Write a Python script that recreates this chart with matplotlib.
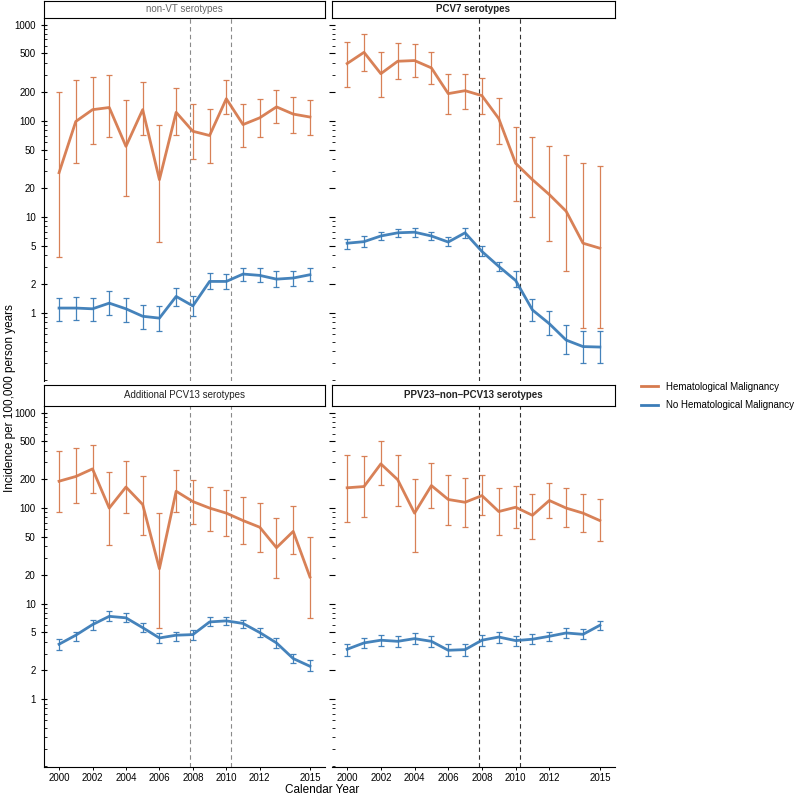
import matplotlib
matplotlib.use("Agg")
import matplotlib.pyplot as plt
from matplotlib.lines import Line2D
import numpy as np

plt.rcParams['font.family'] = ['Liberation Sans', 'DejaVu Sans']

years = list(range(2000, 2016))
panels = ["non-VT serotypes", "PCV7 serotypes",
          "Additional PCV13 serotypes", "PPV23\u2013non\u2013PCV13 serotypes"]

# incidence per 100,000 person years: (estimate, lower, upper)
nonvt_hm = [28.7, 98, 130, 137, 54, 130, 24.3, 122, 77.5, 70, 169, 91, 107, 139, 117, 109]
nonvt_hm_lo = [3.8, 36, 57, 67, 16.3, 71, 5.5, 71, 40, 36, 116, 52.6, 67, 95, 75, 71]
nonvt_hm_hi = [200, 265, 287, 295, 163, 250, 91, 219, 149, 132, 262, 149, 169, 207, 175, 165]
nonvt_no = [1.12, 1.12, 1.10, 1.26, 1.10, 0.92, 0.88, 1.48, 1.18, 2.12, 2.12, 2.53, 2.45, 2.24, 2.30, 2.49]
nonvt_no_lo = [0.83, 0.84, 0.83, 0.95, 0.81, 0.68, 0.65, 1.18, 0.92, 1.77, 1.77, 2.12, 2.08, 1.85, 1.9, 2.12]
nonvt_no_hi = [1.44, 1.45, 1.44, 1.67, 1.44, 1.21, 1.18, 1.83, 1.50, 2.59, 2.55, 2.96, 2.9, 2.69, 2.72, 2.96]

pcv7_hm = [393, 514, 308, 415, 422, 354, 191, 205, 182, 105, 36, 24.3, 17, 11.4, 5.3, 4.7]
pcv7_hm_lo = [224, 332, 177, 272, 282, 240, 117, 132, 117, 57.6, 14.6, 10, 5.6, 2.74, 0.70, 0.70]
pcv7_hm_hi = [654, 796, 514, 643, 629, 514, 305, 305, 278, 172, 85, 67, 55, 43.6, 36, 34]
pcv7_no = [5.3, 5.5, 6.3, 6.8, 6.9, 6.3, 5.45, 6.8, 4.35, 3.04, 2.17, 1.07, 0.77, 0.52, 0.445, 0.44]
pcv7_no_lo = [4.6, 4.8, 5.66, 6.1, 6.2, 5.66, 4.9, 6.0, 3.86, 2.7, 1.85, 0.83, 0.59, 0.37, 0.30, 0.30]
pcv7_no_hi = [5.9, 6.3, 7.0, 7.4, 7.6, 7.0, 6.1, 7.6, 4.9, 3.4, 2.7, 1.4, 1.05, 0.75, 0.65, 0.65]

pcv13_hm = [191, 214, 257, 100, 166, 109, 23.2, 150, 117, 100, 88.5, 74, 63, 38.5, 57, 19]
pcv13_hm_lo = [91, 112, 143, 40.6, 89, 52.7, 5.6, 92, 68, 57, 50.5, 42, 34.6, 18.4, 33, 7.0]
pcv13_hm_hi = [400, 424, 458, 237, 309, 215, 89, 250, 198, 168, 155, 132, 112, 79, 104, 49.6]
pcv13_no = [3.76, 4.67, 6.03, 7.36, 7.1, 5.6, 4.37, 4.67, 4.74, 6.43, 6.6, 6.2, 4.98, 3.88, 2.66, 2.21]
pcv13_no_lo = [3.25, 4.1, 5.35, 6.6, 6.4, 5.0, 3.9, 4.1, 4.2, 5.8, 6.0, 5.6, 4.5, 3.45, 2.4, 1.95]
pcv13_no_hi = [4.3, 5.1, 6.8, 8.3, 7.9, 6.2, 4.9, 5.1, 5.35, 7.2, 7.2, 6.8, 5.6, 4.4, 3.0, 2.55]

ppv23_hm = [163, 168, 290, 198, 88.5, 172, 123, 115, 135, 92, 102, 84, 120, 100, 88.5, 74]
ppv23_hm_lo = [72, 80, 174, 104, 35, 100, 67, 64, 84, 51.7, 62, 47, 79, 64, 56, 45]
ppv23_hm_hi = [362, 350, 500, 362, 203, 295, 222, 206, 222, 162, 169, 139, 182, 162, 141, 123]
ppv23_no = [3.33, 3.88, 4.14, 4.03, 4.3, 4.03, 3.25, 3.3, 4.14, 4.47, 4.1, 4.24, 4.55, 4.93, 4.77, 5.93]
ppv23_no_lo = [2.8, 3.45, 3.6, 3.55, 3.8, 3.55, 2.8, 2.85, 3.6, 3.9, 3.6, 3.8, 4.05, 4.4, 4.25, 5.35]
ppv23_no_hi = [3.8, 4.4, 4.7, 4.6, 4.9, 4.6, 3.8, 3.8, 4.7, 5.1, 4.6, 4.8, 5.1, 5.5, 5.4, 6.6]

series = [
    ((nonvt_hm, nonvt_hm_lo, nonvt_hm_hi), (nonvt_no, nonvt_no_lo, nonvt_no_hi)),
    ((pcv7_hm, pcv7_hm_lo, pcv7_hm_hi), (pcv7_no, pcv7_no_lo, pcv7_no_hi)),
    ((pcv13_hm, pcv13_hm_lo, pcv13_hm_hi), (pcv13_no, pcv13_no_lo, pcv13_no_hi)),
    ((ppv23_hm, ppv23_hm_lo, ppv23_hm_hi), (ppv23_no, ppv23_no_lo, ppv23_no_hi)),
]

vaccine_dates = [2007.8, 2010.28]
xticks = [2000, 2002, 2004, 2006, 2008, 2010, 2012, 2015]
yticks = [1, 2, 5, 10, 20, 50, 100, 200, 500, 1000]
minor = [m * 10.0 ** k for k in range(-1, 4) for m in range(1, 10)]
minor = [v for v in minor if v not in yticks and 0.195 < v < 1170]

c_hm = '#D67A4E'
c_no = '#3B7CB8'
W, H = 800, 797

fig = plt.figure(figsize=(8, 7.97), dpi=100)

# panel boxes in pixels: (left, top, right, bottom)
lefts = [(44, 325), (332, 615)]
rows = [(18, 381, 1), (406, 767, 385)]
strip_weight = ['normal', 'bold', 'normal', 'bold']

for i, name in enumerate(panels):
    r, c = divmod(i, 2)
    x0, x1 = lefts[c]
    y0, y1, s0 = rows[r]
    ax = fig.add_axes([x0 / W, (H - y1) / H, (x1 - x0) / W, (y1 - y0) / H])
    sx = fig.add_axes([x0 / W, (H - y0) / H, (x1 - x0) / W, (y0 - s0) / H])
    sx.set_xticks([]); sx.set_yticks([])
    for sp in sx.spines.values():
        sp.set_linewidth(0.8)
    sx.text(0.5, 0.5, name, ha='center', va='center', fontsize=7,
            weight=strip_weight[i], color='#222222' if i != 0 else '#666666')

    for (est, lo, hi), col in zip(series[i], [c_hm, c_no]):
        est = np.array(est); lo = np.array(lo); hi = np.array(hi)
        ax.errorbar(years, est, yerr=[est - lo, hi - est], color=col, lw=2.0,
                    elinewidth=0.9, capsize=2.5, capthick=0.9, ecolor=col, alpha=0.95)

    dcol = '#8a8a8a' if c == 0 else '#333333'
    for d in vaccine_dates:
        ax.axvline(d, color=dcol, lw=0.8, ls=(0, (4, 3)))

    ax.set_yscale('log')
    ax.set_ylim(0.195, 1170)
    ax.set_xlim(1999.1, 2015.9)
    ax.set_yticks(yticks)
    ax.set_yticks(minor, minor=True)
    ax.yaxis.set_minor_formatter(matplotlib.ticker.NullFormatter())
    ax.set_xticks(xticks)
    ax.tick_params(axis='y', which='major', direction='inout', length=5, width=0.8, labelsize=7)
    ax.tick_params(axis='y', which='minor', direction='in', length=2, width=0.6)
    ax.tick_params(axis='x', length=2.5, width=0.7, labelsize=7, pad=1.5)
    for sp in ['top', 'right']:
        ax.spines[sp].set_visible(False)
    if c == 0:
        ax.set_yticklabels([str(v) for v in yticks])
        ax.spines['left'].set_linewidth(0.8)
    else:
        ax.set_yticklabels([])
        ax.spines['left'].set_visible(False)
    if r == 0:
        ax.spines['bottom'].set_visible(False)
        ax.tick_params(axis='x', bottom=False, labelbottom=False)
    else:
        ax.spines['bottom'].set_linewidth(0.8)
        ax.set_xticklabels([str(v) for v in xticks])
    ax.patch.set_alpha(0)

fig.text(10 / W, 0.5, 'Incidence per 100,000 person years', rotation=90,
         ha='center', va='center', fontsize=8.5)
fig.text(322 / W, 1 / H, 'Calendar Year', ha='center', va='bottom', fontsize=8.5)

handles = [Line2D([], [], color=c_hm, lw=2), Line2D([], [], color=c_no, lw=2)]
fig.legend(handles, ['Hematological Malignancy', 'No Hematological Malignancy'],
           loc='center left', bbox_to_anchor=(632 / W, (H - 396) / H), frameon=False,
           fontsize=7, handlelength=1.8, labelspacing=0.9)

fig.savefig('out.png', dpi=100)
